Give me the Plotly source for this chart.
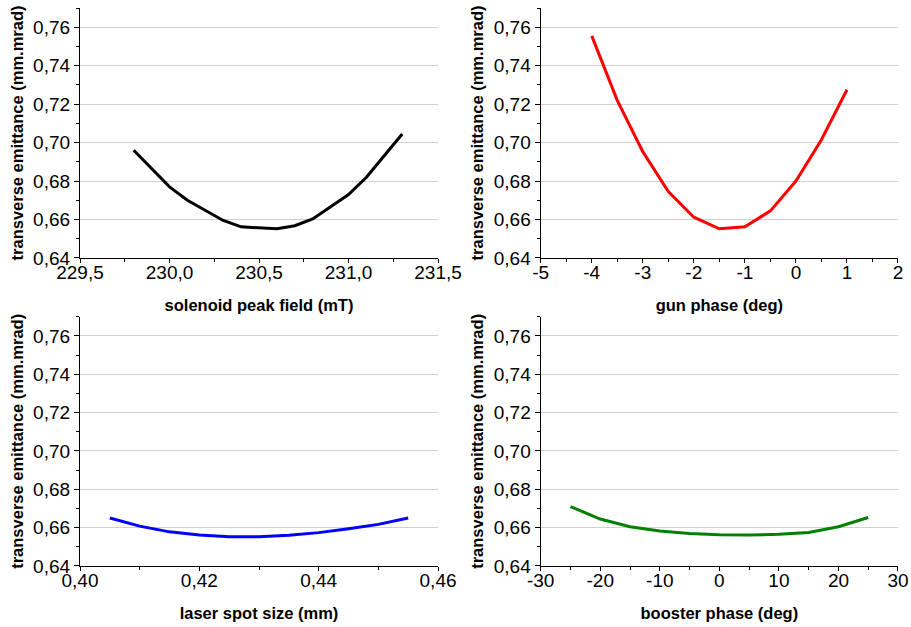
import plotly.graph_objects as go

# Transverse emittance scans
sol_field = [229.8, 230.0, 230.1, 230.3, 230.4, 230.6, 230.7, 230.8, 231.0, 231.1, 231.3]
sol_emit = [0.696, 0.677, 0.670, 0.6595, 0.6562, 0.6552, 0.6568, 0.6603, 0.673, 0.682, 0.7045]

gun_phase = [-4, -3.5, -3, -2.5, -2, -1.5, -1, -0.5, 0, 0.5, 1]
gun_emit = [0.7555, 0.722, 0.6953, 0.6745, 0.6612, 0.6552, 0.6562, 0.6645, 0.680, 0.7015, 0.7275]

spot_size = [0.405, 0.41, 0.415, 0.42, 0.425, 0.43, 0.435, 0.44, 0.445, 0.45, 0.455]
spot_emit = [0.665, 0.6608, 0.6578, 0.6562, 0.6553, 0.6553, 0.656, 0.6574, 0.6594, 0.6617, 0.665]

booster_phase = [-25, -20, -15, -10, -5, 0, 5, 10, 15, 20, 25]
booster_emit = [0.671, 0.6645, 0.6605, 0.6583, 0.657, 0.6563, 0.6562, 0.6565, 0.6575, 0.6605, 0.6653]

# Tick labels
gun_ticks = [-5, -4, -3, -2, -1, 0, 1, 2]
gun_ticktext = ["-5", "-4", "-3", "-2", "-1", "0", "1", "2"]
booster_ticks = [-30, -20, -10, 0, 10, 20, 30]
booster_ticktext = ["-30", "-20", "-10", "0", "10", "20", "30"]

y_title = "transverse emittance (mm.mrad)"
FONT = "Arial, Liberation Sans, sans-serif"

fig = go.Figure()
fig.add_trace(go.Scatter(x=sol_field, y=sol_emit, mode="lines",
                         line=dict(color="black", width=3), xaxis="x", yaxis="y"))
fig.add_trace(go.Scatter(x=gun_phase, y=gun_emit, mode="lines",
                         line=dict(color="#ff0000", width=3), xaxis="x2", yaxis="y2"))
fig.add_trace(go.Scatter(x=spot_size, y=spot_emit, mode="lines",
                         line=dict(color="#0000ff", width=3), xaxis="x3", yaxis="y3"))
fig.add_trace(go.Scatter(x=booster_phase, y=booster_emit, mode="lines",
                         line=dict(color="#008000", width=3), xaxis="x4", yaxis="y4"))

left_dom = [0.0, 0.4377]
right_dom = [0.5632, 1.0]
top_dom = [0.552, 1.0]
bot_dom = [0.0, 0.4468]

tick_font = dict(family=FONT, size=19, color="black")
title_font = dict(family=FONT, size=16.5, color="black", weight="bold")


def xaxis_style(domain, anchor, rng, dtick, minor_dtick, title, fmt=None):
    d = dict(domain=domain, anchor=anchor, range=rng, dtick=dtick, tick0=rng[0],
             automargin=False,
             showgrid=False, zeroline=False, showline=True, linecolor="black",
             linewidth=1.3, ticks="outside", ticklen=4, tickwidth=1.3,
             tickcolor="black", tickfont=tick_font, ticklabelstandoff=-7,
             minor=dict(dtick=minor_dtick, ticks="outside", ticklen=3,
                        tickwidth=1.3, tickcolor="black", showgrid=False),
             title=dict(text=title, font=title_font, standoff=17))
    if fmt:
        d["tickformat"] = fmt
    return d


def yaxis_style(domain, anchor):
    return dict(domain=domain, anchor=anchor, range=[0.64, 0.77], dtick=0.02,
                tick0=0.64, tickformat=".2f", automargin=False,
                showgrid=True, gridcolor="#d0d0d0",
                gridwidth=1.3, zeroline=False, showline=True, linecolor="black",
                linewidth=1.3, ticks="outside", ticklen=5, tickwidth=1.3,
                tickcolor="black", tickfont=tick_font,
                minor=dict(dtick=0.01, ticks="outside", ticklen=3, tickwidth=1.3,
                           tickcolor="black", showgrid=False),
                title=dict(text=y_title, font=title_font, standoff=5))


fig.update_layout(
    width=911, height=627,
    margin=dict(l=80, r=13, t=8, b=61, autoexpand=False),
    paper_bgcolor="white", plot_bgcolor="white",
    showlegend=False,
    separators=", ",
    font=dict(family=FONT, color="black"),
    xaxis=xaxis_style(left_dom, "y", [229.5, 231.5], 0.5, 0.25,
                      "solenoid peak field (mT)", ".1f"),
    yaxis=yaxis_style(top_dom, "x"),
    xaxis2=xaxis_style(right_dom, "y2", [-5, 2], 1, 0.5, "gun phase (deg)"),
    yaxis2=yaxis_style(top_dom, "x2"),
    xaxis3=xaxis_style(left_dom, "y3", [0.40, 0.46], 0.02, 0.01,
                       "laser spot size (mm)", ".2f"),
    yaxis3=yaxis_style(bot_dom, "x3"),
    xaxis4=xaxis_style(right_dom, "y4", [-30, 30], 10, 5, "booster phase (deg)"),
    yaxis4=yaxis_style(bot_dom, "x4"),
)
fig.update_layout(
    xaxis2=dict(tickmode="array", tickvals=gun_ticks, ticktext=gun_ticktext),
    xaxis4=dict(tickmode="array", tickvals=booster_ticks, ticktext=booster_ticktext),
)

fig.write_html("out.html")
